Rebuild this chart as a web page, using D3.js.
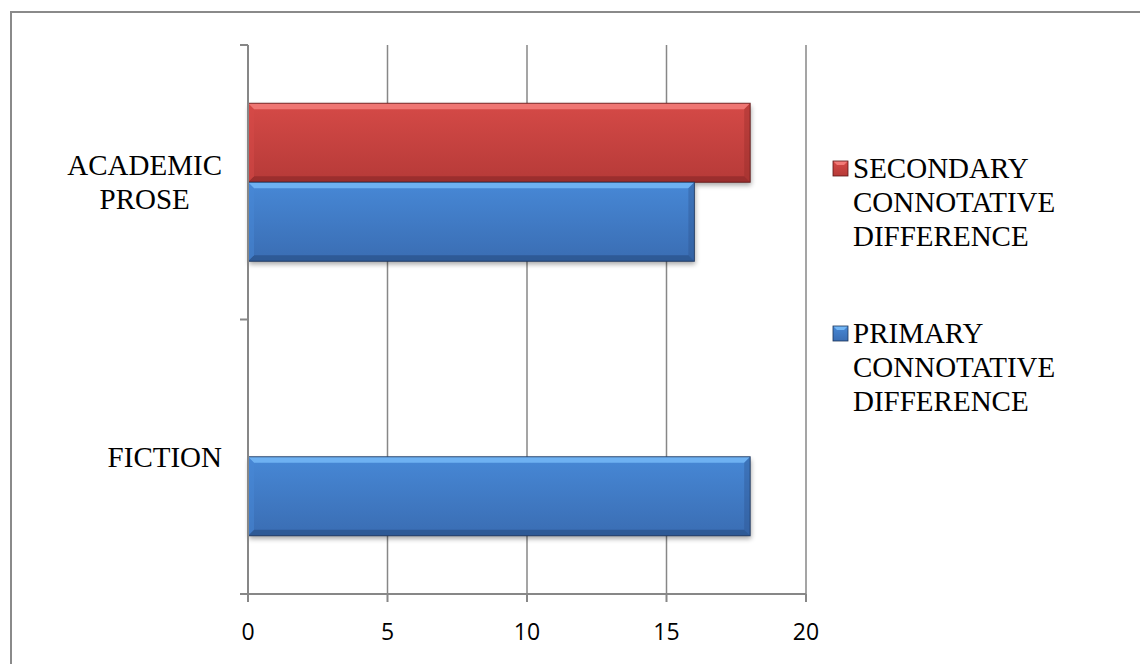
<!DOCTYPE html>
<html>
<head>
<meta charset="utf-8">
<script src="https://cdn.jsdelivr.net/npm/d3@7"></script>
<style>
  body { margin: 0; background: #fff; }
  svg { display: block; }
  .serif { font-family: "Liberation Serif", "Times New Roman", Times, "DejaVu Serif", serif; }
  .sans { font-family: "Open Sans", "Liberation Sans", sans-serif; }
</style>
</head>
<body>
<svg id="chart" width="1140" height="664"></svg>
<script>
// data
const categories = ["ACADEMIC PROSE", "FICTION"]
const categoryLines = [["ACADEMIC", "PROSE"], ["FICTION"]]
const seriesNames = ["SECONDARY CONNOTATIVE DIFFERENCE", "PRIMARY CONNOTATIVE DIFFERENCE"]
const seriesLines = [["SECONDARY", "CONNOTATIVE", "DIFFERENCE"], ["PRIMARY", "CONNOTATIVE", "DIFFERENCE"]]
const secondaryValues = [18, 0]
const primaryValues = [16, 18]
const xTicks = [0, 5, 10, 15, 20]

const colors = {
    secondary: { hi: "#f27b78", top: "#d54a47", bot: "#b63a38", lo: "#8f2a29", edge: "#5a1616" },
    primary:   { hi: "#72b6f5", top: "#4788d6", bot: "#3a6db3", lo: "#2a5189", edge: "#1b3258" }
}

const svg = d3.select("#chart")
const axisGrey = "#878787"

// outer frame (runs past the right and bottom edge)
svg.append("rect")
    .attr("x", 11).attr("y", 12)
    .attr("width", 1160).attr("height", 680)
    .attr("fill", "none")
    .attr("stroke", "#8a8a8a")
    .attr("stroke-width", 2)

const plotLeft = 248, plotRight = 806, plotTop = 45, plotBottom = 594

const x = d3.scaleLinear().domain([0, 20]).range([plotLeft, plotRight])
const y = d3.scaleBand().domain(categories).range([plotTop, plotBottom]).padding(0)
const ySub = d3.scaleBand().domain(["secondary", "primary"])
    .range([0, y.bandwidth()]).paddingInner(0).paddingOuter(0.737)

// gradients
const defs = svg.append("defs")
Object.entries(colors).forEach(([k, c]) => {
    let g = defs.append("linearGradient").attr("id", "grad-" + k)
        .attr("x1", 0).attr("y1", 0).attr("x2", 0).attr("y2", 1)
    g.append("stop").attr("offset", "0%").attr("stop-color", c.top)
    g.append("stop").attr("offset", "100%").attr("stop-color", c.bot)
})
let f = defs.append("filter").attr("id", "shadow")
    .attr("x", "-5%").attr("y", "-10%").attr("width", "110%").attr("height", "130%")
f.append("feGaussianBlur").attr("in", "SourceAlpha").attr("stdDeviation", 2.5)
f.append("feOffset").attr("dx", 1).attr("dy", 3).attr("result", "b")
f.append("feComponentTransfer").append("feFuncA").attr("type", "linear").attr("slope", 0.35)

// grid lines
svg.append("g").selectAll("line")
    .data(xTicks.filter(d => d > 0))
    .join("line")
    .attr("x1", d => x(d)).attr("x2", d => x(d))
    .attr("y1", plotTop).attr("y2", plotBottom)
    .attr("stroke", axisGrey).attr("stroke-width", 1.5)

// bars
const rows = []
categories.forEach((c, i) => {
    rows.push({ cat: c, key: "secondary", value: secondaryValues[i] })
    rows.push({ cat: c, key: "primary", value: primaryValues[i] })
})

const bev = 6
const barG = svg.append("g")
rows.filter(d => d.value > 0).forEach(d => {
    const c = colors[d.key]
    const x0 = x(0), x1 = x(d.value)
    const y0 = y(d.cat) + ySub(d.key), h = ySub.bandwidth(), y1 = y0 + h
    const g = barG.append("g")
    g.append("rect")
        .attr("x", x0).attr("y", y0).attr("width", x1 - x0).attr("height", h)
        .attr("fill", "#000").attr("filter", "url(#shadow)")
    g.append("rect")
        .attr("x", x0).attr("y", y0).attr("width", x1 - x0).attr("height", h)
        .attr("fill", "url(#grad-" + d.key + ")")
    // bevel strips
    g.append("polygon")
        .attr("points", [[x0, y0], [x1, y0], [x1 - bev, y0 + bev], [x0 + bev, y0 + bev]].join(" "))
        .attr("fill", c.hi).attr("opacity", 0.9)
    g.append("polygon")
        .attr("points", [[x0, y1], [x1, y1], [x1 - bev, y1 - bev], [x0 + bev, y1 - bev]].join(" "))
        .attr("fill", c.lo).attr("opacity", 0.7)
    g.append("polygon")
        .attr("points", [[x1, y0], [x1, y1], [x1 - bev, y1 - bev], [x1 - bev, y0 + bev]].join(" "))
        .attr("fill", c.lo).attr("opacity", 0.35)
    g.append("polygon")
        .attr("points", [[x0, y0], [x0, y1], [x0 + bev, y1 - bev], [x0 + bev, y0 + bev]].join(" "))
        .attr("fill", c.top).attr("opacity", 0.5)
    g.append("rect")
        .attr("x", x0).attr("y", y0).attr("width", x1 - x0).attr("height", h)
        .attr("fill", "none").attr("stroke", c.edge).attr("stroke-width", 1).attr("stroke-opacity", 0.8)
})

// axes
svg.append("line")
    .attr("x1", plotLeft).attr("x2", plotLeft).attr("y1", plotTop).attr("y2", plotBottom + 8)
    .attr("stroke", axisGrey).attr("stroke-width", 2)
svg.append("line")
    .attr("x1", plotLeft - 8).attr("x2", plotRight).attr("y1", plotBottom).attr("y2", plotBottom)
    .attr("stroke", axisGrey).attr("stroke-width", 2)

// y ticks at band edges
const yEdges = categories.map(c => y(c)).concat([plotBottom])
svg.append("g").selectAll("line").data(yEdges).join("line")
    .attr("x1", plotLeft - 8).attr("x2", plotLeft).attr("y1", d => d).attr("y2", d => d)
    .attr("stroke", axisGrey).attr("stroke-width", 2)

// x ticks + labels
const xt = svg.append("g").selectAll("g").data(xTicks).join("g")
xt.append("line")
    .attr("x1", d => x(d)).attr("x2", d => x(d)).attr("y1", plotBottom).attr("y2", plotBottom + 8)
    .attr("stroke", axisGrey).attr("stroke-width", 2)
xt.append("text")
    .attr("class", "sans")
    .attr("x", d => x(d)).attr("y", 640)
    .attr("text-anchor", "middle")
    .attr("font-size", 23)
    .attr("fill", "#000")
    .text(d => d)

// category labels: block right aligned, lines centred within the block
const lineH = 34
categories.forEach((c, i) => {
    const lines = categoryLines[i]
    const cy = y(c) + y.bandwidth() / 2
    const t = svg.append("text")
        .attr("class", "serif")
        .attr("font-size", 29).attr("fill", "#000")
        .attr("text-anchor", "middle")
    lines.forEach((l, j) => {
        t.append("tspan").attr("y", cy + (j - (lines.length - 1) / 2) * lineH + 10).text(l)
    })
    let maxW = 0
    t.selectAll("tspan").each(function() { maxW = Math.max(maxW, this.getComputedTextLength()) })
    t.selectAll("tspan").attr("x", 222 - maxW / 2)
})

// legend
const legendTops = [168, 333]
seriesNames.forEach((s, i) => {
    const key = i === 0 ? "secondary" : "primary"
    const c = colors[key]
    const ly = legendTops[i]
    const mx = 833, my = ly - 7, ms = 15
    svg.append("rect").attr("x", mx).attr("y", my).attr("width", ms).attr("height", ms)
        .attr("fill", "url(#grad-" + key + ")")
    svg.append("polygon")
        .attr("points", [[mx, my], [mx + ms, my], [mx + ms - 4, my + 4], [mx + 4, my + 4]].join(" "))
        .attr("fill", c.hi)
    svg.append("rect").attr("x", mx).attr("y", my).attr("width", ms).attr("height", ms)
        .attr("fill", "none").attr("stroke", c.edge).attr("stroke-width", 0.8)
    const t = svg.append("text")
        .attr("class", "serif")
        .attr("font-size", 29).attr("fill", "#000")
    seriesLines[i].forEach((l, j) => {
        t.append("tspan").attr("x", 853).attr("y", ly + 10 + j * lineH).text(l)
    })
})
</script>
</body>
</html>
